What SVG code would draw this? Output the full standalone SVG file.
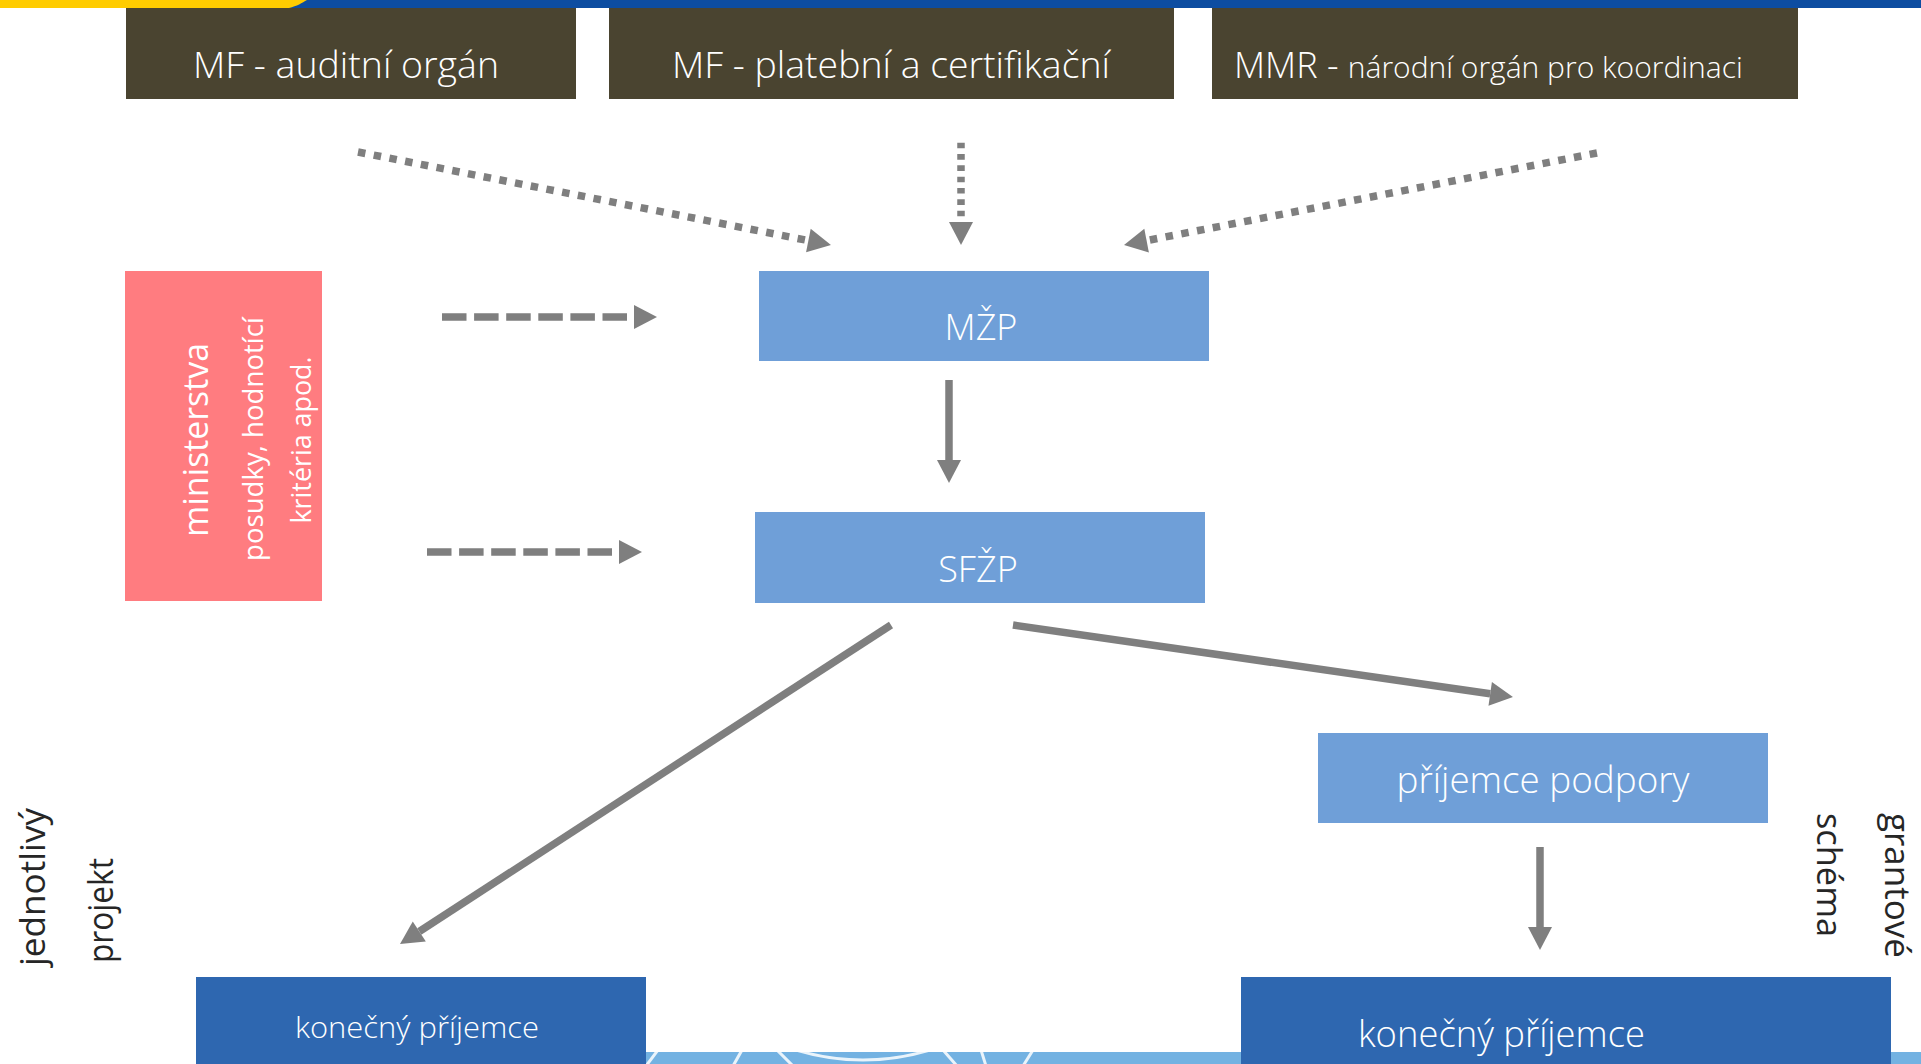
<svg xmlns="http://www.w3.org/2000/svg" width="1921" height="1064" viewBox="0 0 1921 1064">
<style>
  .t { font-family: "Open Sans", "Noto Sans", "Liberation Sans", sans-serif; fill: #ffffff; font-weight: 300; }
  .tr { font-family: "Open Sans", "Noto Sans", "Liberation Sans", sans-serif; fill: #ffffff; font-weight: 400; }
  .lbl { font-family: "Open Sans", "Noto Sans", "Liberation Sans", sans-serif; fill: #262626; font-size: 35px; font-weight: 400; }
  .olive { fill: #4A4430; }
  .light { fill: #6F9FD8; }
  .dark { fill: #2E67B0; }
  .pink { fill: #FF7C80; }
  .con { fill: none; stroke: #7F7F7F; stroke-width: 7.5; stroke-linecap: butt; }
  .dot { stroke-dasharray: 7.5 8.5; }
  .dotv { stroke-dasharray: 5.6 5.73; }
  .dash { stroke-dasharray: 24.5 7.6; stroke-width: 7.7; }
  .arc { fill: none; stroke: #ffffff; stroke-width: 3; opacity: 0.85; }
</style>
<defs>
  <marker id="ah" markerUnits="userSpaceOnUse" markerWidth="24" markerHeight="24" refX="0" refY="12" orient="auto" overflow="visible">
    <path d="M0,0 L23,12 L0,24 Z" fill="#7F7F7F"/>
  </marker>
  <clipPath id="bandClip"><rect x="300" y="1052" width="1621" height="12"/></clipPath>
</defs>

<rect x="0" y="0" width="1921" height="1064" fill="#ffffff"/>

<g id="background">
  <rect x="0" y="0" width="1921" height="8" fill="#0D4DA1"/>
  <path d="M0,0 H307 C302,3 297,6 289,8 H0 Z" fill="#FFCC00"/>
  <rect x="300" y="1052" width="1621" height="12" fill="#73B2E2"/>
  <g clip-path="url(#bandClip)">
    <circle class="arc" cx="863" cy="831" r="229"/>
    <path class="arc" d="M646,1066 L658,1050"/>
    <path class="arc" d="M733,1066 L742,1050"/>
    <path class="arc" d="M777,1050 L793,1066"/>
    <path class="arc" d="M943,1050 L957,1066"/>
    <path class="arc" d="M981,1050 L986,1066"/>
    <path class="arc" d="M1023,1066 L1033,1050"/>
  </g>
</g>

<g id="connectors">
  <path class="con dot" d="M358,152 L808.4,240.6" marker-end="url(#ah)"/>
  <path class="con dotv" d="M961,142.7 L961,222" marker-end="url(#ah)"/>
  <path class="con dot" d="M1597,153 L1146.6,240.6" marker-end="url(#ah)"/>
  <path class="con dash" d="M442,317 H634" marker-end="url(#ah)"/>
  <path class="con dash" d="M427,552 H619" marker-end="url(#ah)"/>
  <path class="con" d="M949,380 V460" marker-end="url(#ah)"/>
  <path class="con" d="M891,625 L419.3,931.5" marker-end="url(#ah)"/>
  <path class="con" d="M1013,625 L1490.2,693.8" marker-end="url(#ah)"/>
  <path class="con" d="M1540,847 V927" marker-end="url(#ah)"/>
</g>

<g id="node-mf-audit">
  <rect class="olive" x="126" y="8" width="450" height="91"/>
  <text class="t" x="346" y="78" font-size="36" text-anchor="middle" textLength="306" lengthAdjust="spacingAndGlyphs">MF - auditní orgán</text>
</g>

<g id="node-mf-plat">
  <rect class="olive" x="609" y="8" width="565" height="91"/>
  <text class="t" x="891" y="78" font-size="36" text-anchor="middle" textLength="438" lengthAdjust="spacingAndGlyphs">MF - platební a certifikační</text>
</g>

<g id="node-mmr">
  <rect class="olive" x="1212" y="8" width="586" height="91"/>
  <text class="t" x="1234" y="78" font-size="36"><tspan>MMR - </tspan><tspan font-size="30">národní orgán pro koordinaci</tspan></text>
</g>

<g id="node-ministerstva">
  <rect class="pink" x="125" y="271" width="197" height="330"/>
  <text class="tr" transform="translate(208,440) rotate(-90)" font-size="34" text-anchor="middle" textLength="194" lengthAdjust="spacingAndGlyphs">ministerstva</text>
  <text class="tr" transform="translate(263,439) rotate(-90)" font-size="27.5" text-anchor="middle" textLength="244" lengthAdjust="spacingAndGlyphs">posudky, hodnotící</text>
  <text class="tr" transform="translate(311,440) rotate(-90)" font-size="27.5" text-anchor="middle" textLength="167" lengthAdjust="spacingAndGlyphs">kritéria apod.</text>
</g>

<g id="node-mzp">
  <rect class="light" x="759" y="271" width="450" height="90"/>
  <text class="t" x="981" y="340" font-size="36" text-anchor="middle">MŽP</text>
</g>

<g id="node-sfzp">
  <rect class="light" x="755" y="512" width="450" height="91"/>
  <text class="t" x="978" y="582" font-size="36" text-anchor="middle">SFŽP</text>
</g>

<g id="node-prijemce-podpory">
  <rect class="light" x="1318" y="733" width="450" height="90"/>
  <text class="t" x="1543" y="793" font-size="37" text-anchor="middle" textLength="293" lengthAdjust="spacingAndGlyphs">příjemce podpory</text>
</g>

<g id="node-konecny-left">
  <rect class="dark" x="196" y="977" width="450" height="87"/>
  <text class="t" x="417" y="1038" font-size="30" text-anchor="middle" textLength="244" lengthAdjust="spacingAndGlyphs">konečný příjemce</text>
</g>

<g id="node-konecny-right">
  <rect class="dark" x="1241" y="977" width="650" height="87"/>
  <text class="t" x="1501.5" y="1047" font-size="37" text-anchor="middle" textLength="287" lengthAdjust="spacingAndGlyphs">konečný příjemce</text>
</g>

<g id="label-jednotlivy">
  <text class="lbl" transform="translate(45,966) rotate(-90)" textLength="158" lengthAdjust="spacingAndGlyphs">jednotlivý</text>
  <text class="lbl" transform="translate(113,963) rotate(-90)" textLength="105" lengthAdjust="spacingAndGlyphs">projekt</text>
</g>

<g id="label-grantove">
  <text class="lbl" transform="translate(1885,813) rotate(90)" textLength="145" lengthAdjust="spacingAndGlyphs">grantové</text>
  <text class="lbl" transform="translate(1817,813) rotate(90)" textLength="124" lengthAdjust="spacingAndGlyphs">schéma</text>
</g>
</svg>
